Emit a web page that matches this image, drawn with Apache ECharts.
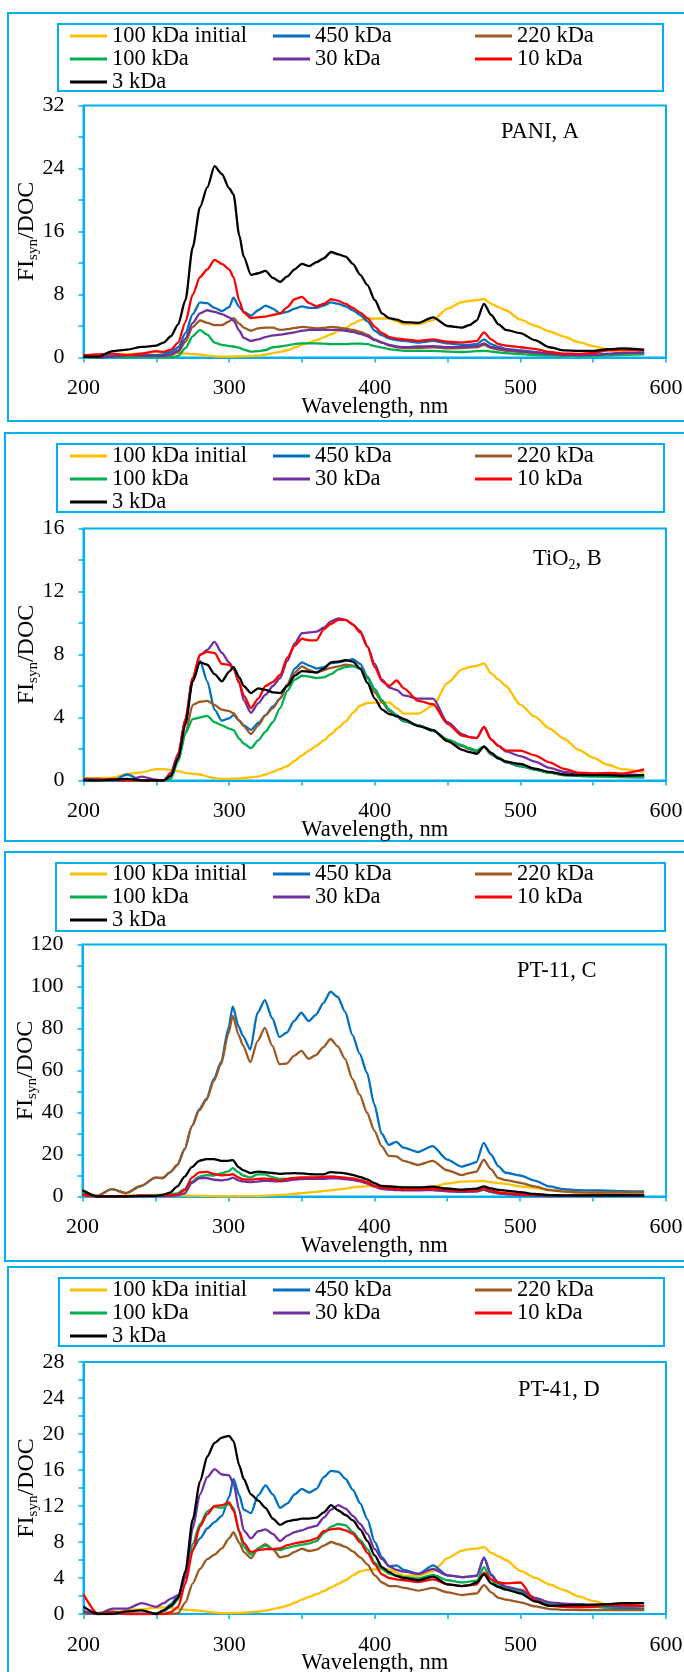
<!DOCTYPE html>
<html>
<head>
<meta charset="utf-8">
<title>FIsyn/DOC spectra</title>
<script src="https://cdn.jsdelivr.net/npm/echarts@6/dist/echarts.min.js"></script>
<style>
html, body { margin: 0; padding: 0; background: #fff; }
#chart { width: 684px; height: 1672px; }
</style>
</head>
<body>
<div id="chart"></div>
<script>
// wavelength grid, nm (shared by every curve)
var wavelengths = [200, 210, 220, 230, 240, 250, 255, 260, 265, 270,
  275, 280, 285, 290, 295, 300, 303, 307, 310, 315,
  320, 325, 330, 335, 340, 345, 350, 355, 360, 365,
  370, 375, 380, 385, 390, 395, 400, 405, 410, 415,
  420, 430, 440, 450, 460, 465, 470, 475, 480, 485,
  490, 500, 510, 520, 530, 540, 550, 560, 570, 585];

var seriesNames = ['100 kDa initial', '450 kDa', '220 kDa', '100 kDa', '30 kDa', '10 kDa', '3 kDa'];

// the initial 100 kDa curve is the same in all four panels
var initial100 = [0.15, 0.15, 0.17, 0.42, 0.52, 0.72, 0.72, 0.66, 0.6, 0.48,
  0.42, 0.38, 0.25, 0.15, 0.1, 0.1, 0.12, 0.13, 0.15, 0.2,
  0.25, 0.38, 0.55, 0.72, 0.92, 1.25, 1.6, 1.9, 2.2, 2.55,
  2.95, 3.35, 3.75, 4.3, 4.75, 4.92, 4.95, 4.95, 4.95, 4.6,
  4.25, 4.25, 4.75, 6.2, 7.05, 7.2, 7.28, 7.43, 6.8, 6.4,
  6.0, 4.8, 4.05, 3.3, 2.65, 1.95, 1.45, 1.0, 0.72, 0.52];

// PANI, A
var pani450 = [0.2, 0.1, 0.2, 0.2, 0.3, 0.3, 0.4, 0.7, 1.3, 3.1,
  5.5, 7.0, 6.9, 6.3, 5.9, 6.4, 7.6, 6.4, 5.8, 5.3,
  6.0, 6.6, 6.2, 5.6, 5.8, 6.2, 6.5, 6.3, 6.3, 6.6,
  7.0, 6.8, 6.5, 6.0, 5.4, 4.6, 3.4, 2.8, 2.4, 2.2,
  2.1, 1.9, 2.1, 1.8, 1.6, 1.6, 1.7, 2.3, 1.7, 1.35,
  1.1, 0.9, 0.7, 0.45, 0.3, 0.3, 0.35, 0.45, 0.6, 0.5];
var pani220 = [0.1, 0.0, 0.1, 0.2, 0.1, 0.1, 0.2, 0.3, 0.7, 2.0,
  3.9, 4.7, 4.4, 4.1, 4.1, 4.6, 5.0, 4.3, 3.8, 3.4,
  3.7, 3.8, 3.8, 3.5, 3.6, 3.75, 3.9, 3.8, 3.7, 3.75,
  3.9, 3.8, 3.65, 3.5, 3.25, 2.9, 2.3, 1.9, 1.5, 1.3,
  1.2, 1.2, 1.3, 1.15, 1.2, 1.25, 1.3, 1.6, 1.2, 1.0,
  0.85, 0.7, 0.55, 0.35, 0.28, 0.25, 0.28, 0.3, 0.4, 0.42];
var pani100 = [0.0, 0.0, 0.05, 0.0, 0.0, 0.0, 0.0, 0.0, 0.2, 1.2,
  2.7, 3.5, 2.9, 1.9, 1.6, 1.45, 1.4, 1.25, 1.0, 0.75,
  0.8, 0.95, 1.3, 1.4, 1.55, 1.7, 1.8, 1.8, 1.8, 1.75,
  1.7, 1.7, 1.7, 1.75, 1.75, 1.7, 1.45, 1.25, 1.05, 0.95,
  0.85, 0.85, 0.85, 0.75, 0.7, 0.75, 0.8, 0.85, 0.75, 0.65,
  0.55, 0.42, 0.3, 0.25, 0.22, 0.2, 0.22, 0.28, 0.35, 0.42];
var pani30 = [0.1, 0.0, 0.1, 0.3, 0.2, 0.2, 0.2, 0.4, 0.9, 2.4,
  4.4, 5.6, 6.0, 5.8, 5.5, 5.1, 4.7, 3.4, 2.5, 2.1,
  2.3, 2.6, 2.8, 2.9, 3.05, 3.2, 3.4, 3.5, 3.5, 3.5,
  3.5, 3.5, 3.4, 3.25, 3.0, 2.7, 2.2, 1.9, 1.6, 1.4,
  1.3, 1.4, 1.45, 1.3, 1.35, 1.4, 1.45, 1.8, 1.35, 1.15,
  1.0, 0.8, 0.65, 0.45, 0.35, 0.3, 0.35, 0.45, 0.6, 0.65];
var pani10 = [0.3, 0.4, 0.5, 0.3, 0.5, 0.8, 0.7, 1.0, 1.9, 4.5,
  8.0, 10.2, 11.2, 12.4, 11.9, 11.2, 10.2, 7.2, 5.7, 5.0,
  5.1, 5.2, 5.4, 5.6, 6.4, 7.4, 7.7, 6.9, 6.5, 6.8,
  7.4, 7.2, 6.8, 6.3, 5.7, 5.0, 3.9, 3.1, 2.6, 2.4,
  2.3, 2.1, 2.3, 2.0, 1.9, 2.0, 2.1, 3.2, 2.3, 1.7,
  1.5, 1.3, 1.1, 0.7, 0.5, 0.45, 0.6, 0.9, 1.0, 0.9];
var pani3 = [0.1, 0.1, 0.8, 1.0, 1.35, 1.5, 1.9, 2.7, 4.2, 7.3,
  14.0, 19.1, 21.6, 24.3, 23.3, 21.5, 20.7, 15.5, 12.8, 10.5,
  10.7, 11.0, 10.1, 9.6, 10.3, 11.2, 11.9, 11.6, 12.1, 12.6,
  13.4, 13.1, 12.8, 11.9, 10.5, 9.2, 7.3, 5.6, 5.0, 4.8,
  4.5, 4.4, 5.1, 4.0, 3.8, 4.1, 4.7, 6.8, 5.4, 4.2,
  3.5, 3.1, 2.2, 1.3, 0.9, 0.85, 0.85, 1.05, 1.15, 1.0];

// TiO2, B
var tio450 = [0.1, 0.05, 0.0, 0.38, 0.0, 0.0, 0.0, 0.3, 1.5, 3.8,
  6.4, 7.6, 6.3, 4.5, 3.8, 3.95, 4.15, 3.8, 3.5, 3.22,
  3.65, 4.15, 4.7, 5.2, 6.1, 7.1, 7.5, 7.3, 7.1, 7.2,
  7.45, 7.5, 7.6, 7.7, 7.4, 6.6, 5.8, 5.0, 4.4, 4.05,
  3.75, 3.5, 3.2, 2.55, 2.2, 2.0, 1.85, 2.15, 1.65, 1.4,
  1.15, 0.9, 0.7, 0.5, 0.34, 0.3, 0.27, 0.25, 0.22, 0.2];
var tio220 = [0.1, 0.1, 0.0, 0.0, 0.0, 0.0, 0.0, 0.3, 1.3, 3.0,
  4.8, 5.0, 5.05, 4.8, 4.5, 4.4, 4.27, 3.8, 3.45, 2.95,
  3.5, 4.15, 4.6, 5.2, 6.1, 6.85, 7.25, 7.0, 6.85, 7.0,
  7.15, 7.25, 7.35, 7.3, 7.1, 6.5, 5.6, 5.0, 4.45, 4.1,
  3.8, 3.5, 3.15, 2.6, 2.2, 2.0, 1.9, 2.15, 1.7, 1.45,
  1.2, 0.95, 0.7, 0.5, 0.36, 0.32, 0.3, 0.28, 0.26, 0.25];
var tio100 = [0.05, 0.0, 0.0, 0.0, 0.0, 0.0, 0.0, 0.1, 1.2, 3.0,
  3.9, 4.0, 4.1, 3.7, 3.5, 3.3, 3.2, 2.65, 2.35, 2.05,
  2.55, 3.1, 3.7, 4.6, 5.7, 6.4, 6.65, 6.6, 6.5, 6.55,
  6.75, 7.05, 7.2, 7.25, 7.1, 6.5, 5.8, 5.1, 4.5, 4.15,
  3.8, 3.5, 3.15, 2.6, 2.25, 2.05, 1.9, 2.17, 1.7, 1.45,
  1.2, 0.95, 0.7, 0.5, 0.34, 0.3, 0.27, 0.25, 0.23, 0.21];
var tio30 = [0.1, 0.05, 0.0, 0.0, 0.25, 0.05, 0.0, 0.5, 1.7, 3.9,
  6.5, 7.96, 8.3, 8.8, 8.1, 7.5, 7.1, 6.2, 5.1, 4.3,
  4.9, 5.45, 6.0, 6.5, 7.6, 8.7, 9.35, 9.4, 9.45, 9.7,
  10.1, 10.3, 10.2, 9.9, 9.5, 8.5, 7.4, 6.4, 5.9, 5.75,
  5.4, 5.2, 5.2, 3.7, 2.95, 2.75, 2.7, 3.4, 2.6, 2.2,
  1.85, 1.55, 1.2, 0.8, 0.55, 0.44, 0.42, 0.42, 0.38, 0.34];
var tio10 = [0.05, 0.0, 0.1, 0.0, 0.0, 0.0, 0.0, 0.4, 1.6, 3.9,
  6.5, 8.0, 8.17, 8.1, 7.4, 7.35, 7.1, 6.2, 5.4, 4.6,
  5.2, 6.0, 6.25, 6.7, 7.8, 8.55, 9.0, 8.9, 8.9, 9.6,
  9.95, 10.2, 10.2, 9.9, 9.4, 8.5, 7.2, 6.3, 6.0, 6.35,
  5.85, 5.05, 4.85, 3.6, 2.85, 2.75, 2.7, 3.4, 2.6, 2.2,
  1.9, 1.9, 1.6, 1.15, 0.74, 0.5, 0.45, 0.48, 0.44, 0.7];
var tio3 = [0.0, 0.0, 0.05, 0.1, 0.0, 0.0, 0.0, 0.3, 1.4, 3.6,
  6.3, 7.5, 7.35, 6.75, 6.3, 6.9, 7.2, 6.55, 6.0, 5.55,
  5.85, 5.75, 5.6, 5.55, 6.0, 6.65, 6.95, 6.9, 6.85, 7.1,
  7.5, 7.55, 7.64, 7.55, 7.1, 6.2, 5.2, 4.5, 4.22, 4.1,
  3.9, 3.45, 3.2, 2.5, 1.95, 1.8, 1.7, 2.15, 1.75, 1.4,
  1.2, 1.05, 0.75, 0.55, 0.38, 0.35, 0.34, 0.34, 0.3, 0.34];

// PT-11, C
var pt11_450 = [3.0, 0.3, 3.5, 1.6, 5.0, 9.0, 8.8, 11.5, 15.0, 22.5,
  33.5, 41.5, 46.5, 56.0, 64.0, 80.0, 90.5, 81.0, 76.5, 70.0,
  87.5, 93.5, 85.0, 76.0, 78.0, 83.5, 87.5, 83.5, 86.5, 92.0,
  97.5, 95.0, 88.0, 77.0, 68.0, 59.0, 44.0, 30.0, 24.6, 26.0,
  23.3, 21.2, 24.0, 17.6, 14.2, 15.2, 16.4, 25.5, 20.0, 14.5,
  11.3, 10.0, 7.6, 4.8, 3.5, 3.0, 2.9, 2.8, 2.5, 2.4];
var pt11_220 = [3.0, 0.3, 3.5, 1.6, 5.0, 9.0, 8.8, 11.5, 15.0, 22.5,
  33.5, 41.0, 46.0, 55.0, 63.0, 77.5, 86.0, 77.0, 72.0, 64.0,
  74.0, 80.3, 72.0, 63.0, 63.3, 67.0, 69.3, 65.5, 67.3, 71.0,
  75.0, 71.5, 65.5, 56.0, 48.5, 40.0, 31.5, 24.0, 19.3, 19.1,
  17.0, 15.1, 17.0, 12.5, 10.2, 11.1, 11.8, 17.5, 13.0, 8.8,
  7.8, 6.5, 4.8, 3.0, 2.3, 2.0, 1.9, 1.9, 1.9, 1.9];
var pt11_100 = [2.0, 0.0, 0.0, 0.0, 0.0, 0.5, 0.8, 1.0, 1.5, 3.5,
  7.0, 9.5, 10.2, 10.0, 11.0, 12.0, 13.5, 11.5, 10.0, 9.0,
  10.5, 10.5, 9.2, 8.4, 8.4, 8.6, 8.7, 8.8, 9.0, 9.2,
  9.5, 9.2, 8.8, 8.2, 7.4, 6.6, 5.0, 3.9, 3.6, 3.4,
  3.2, 3.2, 3.2, 2.7, 2.4, 2.4, 2.4, 3.2, 2.2, 1.6,
  1.2, 0.8, 0.5, 0.35, 0.3, 0.3, 0.35, 0.4, 0.45, 0.5];
var pt11_30 = [0.5, 0.0, 0.0, 0.0, 0.0, 0.2, 0.3, 0.3, 0.5, 1.5,
  6.5, 8.7, 8.8, 8.0, 7.7, 8.2, 9.0, 7.7, 7.2, 6.8,
  7.1, 7.5, 7.3, 7.2, 7.5, 8.0, 8.3, 8.4, 8.4, 8.4,
  8.6, 8.6, 8.3, 7.9, 7.2, 6.2, 4.7, 3.6, 3.3, 3.1,
  2.9, 2.9, 3.1, 2.5, 2.2, 2.3, 2.4, 3.3, 2.2, 1.5,
  1.1, 0.7, 0.5, 0.4, 0.35, 0.35, 0.4, 0.45, 0.45, 0.45];
var pt11_10 = [1.0, 0.0, 0.0, 0.0, 0.5, 0.2, 0.3, 0.5, 1.0, 3.0,
  9.0, 11.5, 11.7, 10.8, 10.1, 10.3, 10.6, 9.0, 8.2, 8.0,
  8.4, 8.5, 8.3, 7.5, 8.4, 8.9, 9.1, 9.1, 9.1, 9.3,
  9.5, 9.3, 9.0, 8.6, 7.9, 6.8, 5.2, 4.2, 4.0, 3.6,
  3.3, 3.4, 3.7, 3.0, 2.7, 2.8, 2.9, 4.0, 2.8, 2.0,
  1.6, 1.1, 0.7, 0.5, 0.45, 0.45, 0.5, 0.5, 0.5, 0.5];
var pt11_3 = [3.0, 0.0, 0.0, 0.0, 0.3, 0.3, 0.8, 1.8, 4.8, 9.5,
  14.0, 17.0, 17.8, 17.8, 17.0, 17.0, 17.3, 14.0, 12.6, 11.2,
  11.8, 11.6, 11.2, 10.8, 11.0, 11.1, 11.0, 10.7, 10.5, 10.5,
  11.6, 11.4, 11.0, 10.3, 9.3, 8.2, 6.4, 5.1, 4.8, 4.6,
  4.35, 4.3, 4.7, 3.8, 3.3, 3.5, 3.7, 4.8, 3.9, 3.2,
  2.8, 2.1, 1.2, 0.7, 0.5, 0.5, 0.55, 0.6, 0.6, 0.5];

// PT-41, D
var pt41_450 = [0.3, 0.0, 0.1, 0.0, 0.0, 0.0, 0.4, 1.1, 2.0, 4.1,
  7.2, 8.4, 9.5, 10.2, 10.9, 13.0, 15.0, 13.2, 11.6, 11.2,
  13.2, 14.3, 13.3, 11.8, 12.3, 13.3, 13.9, 13.5, 13.9, 15.2,
  15.9, 15.8, 15.0, 13.8, 12.3, 10.5, 8.0, 6.3, 5.3, 5.4,
  4.9, 4.45, 5.4, 4.3, 4.1, 4.15, 4.25, 6.2, 4.4, 3.4,
  2.9, 2.3, 1.6, 1.2, 1.05, 1.0, 0.85, 0.7, 0.55, 0.55];
var pt41_220 = [0.1, 0.0, 0.1, 0.0, 0.0, 0.0, 0.0, 0.0, 0.1, 1.3,
  3.4, 5.0, 6.1, 6.6, 7.3, 8.4, 9.1, 7.9, 6.9, 6.2,
  7.3, 7.75, 7.2, 6.3, 6.45, 6.9, 7.25, 7.0, 7.15, 7.6,
  8.0, 7.75, 7.45, 6.95, 6.3, 5.5, 4.3, 3.5, 3.1, 3.1,
  2.9, 2.6, 2.9, 2.4, 2.1, 2.2, 2.3, 3.2, 2.4, 1.8,
  1.6, 1.3, 0.85, 0.55, 0.46, 0.44, 0.44, 0.44, 0.44, 0.44];
var pt41_100 = [0.2, 0.1, 0.3, 0.0, 0.0, 0.1, 0.3, 0.8, 1.6, 4.5,
  7.8, 10.0, 11.4, 11.9, 11.8, 12.2, 11.8, 9.0, 7.5, 6.6,
  7.3, 7.6, 7.2, 7.1, 7.35, 7.55, 7.7, 7.85, 8.1, 9.0,
  9.7, 10.0, 9.85, 9.1, 8.2, 7.2, 5.7, 5.0, 4.45, 4.3,
  4.1, 3.95, 4.35, 3.75, 3.5, 3.6, 3.7, 5.2, 3.8, 3.1,
  2.8, 2.5, 1.7, 1.1, 0.95, 0.85, 0.78, 0.75, 0.8, 0.85];
var pt41_30 = [0.3, 0.0, 0.6, 0.6, 1.2, 0.8, 1.2, 1.7, 2.1, 4.0,
  9.5, 13.3, 15.2, 16.1, 15.5, 15.4, 14.5, 11.5, 9.3, 8.4,
  9.2, 9.4, 8.9, 8.1, 8.7, 9.1, 9.3, 9.6, 9.8, 10.7,
  11.6, 12.1, 11.7, 10.9, 10.0, 8.9, 7.2, 6.1, 5.3, 4.9,
  4.7, 4.45, 5.0, 4.3, 4.1, 4.15, 4.25, 6.3, 4.3, 3.5,
  3.05, 2.7, 1.8, 1.3, 1.15, 1.1, 1.0, 0.9, 0.85, 0.85];
var pt41_10 = [2.2, 0.0, 0.2, 0.0, 0.0, 0.0, 0.0, 0.2, 0.8, 3.4,
  7.0, 9.7, 11.1, 12.0, 12.1, 12.4, 11.5, 9.2, 7.9, 6.9,
  7.1, 7.2, 7.2, 7.3, 7.65, 7.85, 8.0, 8.15, 8.4, 9.2,
  9.4, 9.5, 9.3, 8.9, 7.95, 6.8, 5.5, 4.4, 4.0, 3.85,
  3.75, 3.55, 3.85, 3.3, 3.1, 3.2, 3.3, 4.6, 3.85, 3.5,
  3.4, 3.5, 1.5, 0.9, 0.8, 0.74, 0.8, 1.05, 1.0, 0.9];
var pt41_3 = [0.8, 0.0, 0.0, 0.3, 0.4, 0.0, 0.4, 0.9, 1.8, 4.8,
  10.5, 14.7, 17.5, 19.0, 19.6, 19.8, 19.2, 16.5, 15.0, 13.3,
  12.6, 11.8, 10.6, 9.9, 10.3, 10.45, 10.6, 10.6, 10.7, 11.3,
  12.1, 11.5, 11.0, 10.4, 9.4, 8.1, 6.5, 5.2, 4.65, 4.2,
  4.0, 3.75, 4.15, 3.3, 3.1, 3.2, 3.5, 4.4, 3.4, 3.0,
  2.7, 2.3, 1.4, 0.9, 0.95, 1.0, 1.05, 1.1, 1.2, 1.2];

var FONT = "'Liberation Serif', 'Times New Roman', serif";
var BLUE_LINE = '#00B0F0';
var colors = ['#FFC000', '#0070C0', '#9C5A22', '#00B050', '#7030A0', '#FF0000', '#000000'];

// layout of the four stacked panels
var panels = [
  { title: '{a|PANI, A}', titleLeft: 501, titleTop: 121, gridLeft: 83.5, gridTop: 105.5,
    yMax: 32, yStep: 8, box: [8, 13, 700, 408], legendBox: [58, 24, 605, 67], legendTop: 24.5,
    curves: [initial100, pani450, pani220, pani100, pani30, pani10, pani3] },
  { title: '{a|TiO}{s|2}{a|, B}', titleLeft: 533, titleTop: 548, gridLeft: 83.5, gridTop: 528.5,
    yMax: 16, yStep: 4, box: [5, 433, 700, 408], legendBox: [57, 444, 607, 68], legendTop: 444.5,
    curves: [initial100, tio450, tio220, tio100, tio30, tio10, tio3] },
  { title: '{a|PT-11, C}', titleLeft: 517, titleTop: 960, gridLeft: 82.5, gridTop: 944.5,
    yMax: 120, yStep: 20, box: [5, 852, 700, 409], legendBox: [56, 863, 609, 68], legendTop: 862.5,
    curves: [initial100, pt11_450, pt11_220, pt11_100, pt11_30, pt11_10, pt11_3] },
  { title: '{a|PT-41, D}', titleLeft: 518, titleTop: 1378.5, gridLeft: 83.5, gridTop: 1362,
    yMax: 28, yStep: 4, box: [8, 1267, 700, 420], legendBox: [59, 1278, 605, 68], legendTop: 1278.5,
    curves: [initial100, pt41_450, pt41_220, pt41_100, pt41_30, pt41_10, pt41_3] }
];

// legend columns: which series go in which column, and where
var legendCols = [[0, 3, 6], [1, 4], [2, 5]];
var legendLefts = [70, 273, 475];

// rich styles: a = normal text, s = subscript
var titleRich = {
  a: { fontFamily: FONT, fontSize: 22.5, fontWeight: 'normal', color: '#000', lineHeight: 22.5, verticalAlign: 'top' },
  s: { fontFamily: FONT, fontSize: 14, fontWeight: 'normal', color: '#000', lineHeight: 14, padding: [12, 0, 0, 0] }
};
var yNameRich = {
  a: { fontFamily: FONT, fontSize: 24, fontWeight: 'normal', color: '#000', lineHeight: 24, verticalAlign: 'top' },
  s: { fontFamily: FONT, fontSize: 15, fontWeight: 'normal', color: '#000', lineHeight: 15, padding: [13, 0, 0, 0] }
};

function pairs(values) {
  return wavelengths.map(function (w, j) { return [w, values[j]]; });
}

var option = {
  animation: false,
  backgroundColor: '#fff',
  title: [], legend: [], grid: [], xAxis: [], yAxis: [], series: [],
  graphic: { elements: [] }
};

panels.forEach(function (p, i) {
  var tickStyle = { color: BLUE_LINE, width: 1.5 };

  option.graphic.elements.push({
    type: 'rect', silent: true, z: 0,
    shape: { x: p.box[0], y: p.box[1], width: p.box[2], height: p.box[3] },
    style: { fill: 'none', stroke: BLUE_LINE, lineWidth: 2 }
  });
  option.graphic.elements.push({
    type: 'rect', silent: true, z: 0,
    shape: { x: p.legendBox[0], y: p.legendBox[1], width: p.legendBox[2], height: p.legendBox[3] },
    style: { fill: 'none', stroke: BLUE_LINE, lineWidth: 2 }
  });

  option.title.push({
    text: p.title, left: p.titleLeft, top: p.titleTop, padding: 0,
    textStyle: { fontWeight: 'normal', fontFamily: FONT, rich: titleRich }
  });

  option.grid.push({
    left: p.gridLeft, top: p.gridTop, width: 666 - p.gridLeft, height: 252,
    show: true, borderColor: BLUE_LINE, borderWidth: 2, backgroundColor: 'transparent',
    containLabel: false, outerBoundsMode: 'none'
  });

  option.xAxis.push({
    type: 'value', gridIndex: i, min: 200, max: 600, interval: 100,
    axisLine: { show: true, onZero: false, lineStyle: { color: BLUE_LINE, width: 2 } },
    axisTick: { show: true, length: 5, lineStyle: tickStyle },
    minorTick: { show: true, splitNumber: 2, length: 5, lineStyle: tickStyle },
    splitLine: { show: false },
    axisLabel: { color: '#000', fontFamily: FONT, fontSize: 22, margin: 20 },
    name: 'Wavelength, nm', nameLocation: 'middle', nameGap: 38, nameMoveOverlap: false,
    nameTextStyle: { color: '#000', fontFamily: FONT, fontSize: 22.5 }
  });

  option.yAxis.push({
    type: 'value', gridIndex: i, min: 0, max: p.yMax, interval: p.yStep,
    axisLine: { show: true, onZero: false, lineStyle: { color: BLUE_LINE, width: 2 } },
    axisTick: { show: true, length: 5, lineStyle: tickStyle },
    minorTick: { show: true, splitNumber: 2, length: 5, lineStyle: tickStyle },
    splitLine: { show: false },
    axisLabel: { color: '#000', fontFamily: FONT, fontSize: 22, margin: 19 },
    name: '{a|FI}{s|syn}{a|/DOC}', nameLocation: 'middle', nameRotate: 90, nameGap: 45,
    nameMoveOverlap: false,
    nameTextStyle: { fontFamily: FONT, rich: yNameRich }
  });

  seriesNames.forEach(function (name, k) {
    option.series.push({
      name: name, type: 'line', xAxisIndex: i, yAxisIndex: i,
      data: pairs(p.curves[k]),
      color: colors[k],
      symbol: 'none', showSymbol: false,
      smooth: 0.25, smoothMonotone: 'x',
      lineStyle: { color: colors[k], width: 2.3 },
      z: 2 + k
    });
  });

  legendCols.forEach(function (col, c) {
    option.legend.push({
      orient: 'vertical', left: legendLefts[c], top: p.legendTop, padding: 0,
      itemGap: 0, itemWidth: 37, itemHeight: 3, icon: 'rect', selectedMode: false,
      data: col.map(function (k) { return seriesNames[k]; }),
      textStyle: { color: '#000', fontFamily: FONT, fontSize: 22.5, lineHeight: 22.5 }
    });
  });
});

var chart = echarts.init(document.getElementById('chart'));
chart.setOption(option);
</script>
</body>
</html>
